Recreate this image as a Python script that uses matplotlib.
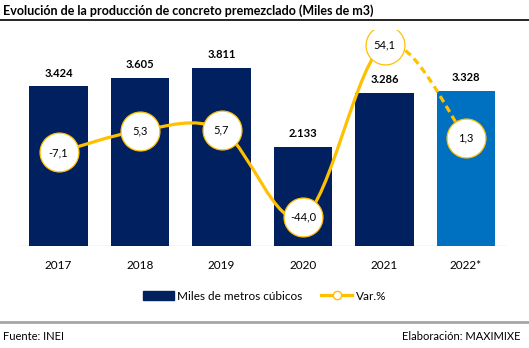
import matplotlib
matplotlib.use('Agg')
import matplotlib.pyplot as plt
from matplotlib.path import Path
from matplotlib.patches import PathPatch, Rectangle
from matplotlib.lines import Line2D
import numpy as np

# ============================================================
# DATA
# ============================================================
anios = ["2017", "2018", "2019", "2020", "2021", "2022*"]
produccion = [3424, 3605, 3811, 2133, 3286, 3328]   # miles de m3
variacion = [-7.1, 5.3, 5.7, -44.0, 54.1, 1.3]      # var. %

AZUL = "#002060"
AZUL_PROY = "#0070C0"
AMARILLO = "#FFC000"

plt.rcParams['font.family'] = ['Lato', 'DejaVu Sans']

W, H = 529, 348
fig = plt.figure(figsize=(W / 100, H / 100), dpi=100)


def px(x0, y0, x1, y1):
    """Rect in pixel coords (from top-left) -> figure fraction."""
    return [x0 / W, 1 - y1 / H, (x1 - x0) / W, (y1 - y0) / H]


ax = fig.add_axes(px(17.75, 30, 506.75, 246))
x = np.arange(len(anios))
colores = [AZUL] * 5 + [AZUL_PROY]
ax.bar(x, produccion, width=0.72, color=colores, zorder=1)
ax.set_xlim(-0.5, 5.5)
ax.set_ylim(0, 216 / 46.6 * 1000)
for xi, v in zip(x, produccion):
    ax.text(xi, v + 170, f"{v:,}".replace(",", "."), ha='center', va='bottom',
            fontsize=8, fontweight='bold', color='black')
ax.set_xticks(x)
ax.set_xticklabels(anios, fontsize=8.5)
ax.tick_params(axis='x', length=0, pad=10)
ax.set_yticks([])
for s in ax.spines.values():
    s.set_visible(False)
ax.axhline(0, color='#D9D9D9', lw=1.0, zorder=0)

# eje secundario para la variacion
ax2 = ax.twinx()
ax2.set_ylim(-(246 - 140) / 1.758, (140 - 30) / 1.758)
ax2.set_yticks([])
for s in ax2.spines.values():
    s.set_visible(False)

# curva suavizada (bezier tipo Catmull-Rom)
pts = np.column_stack([x, variacion]).astype(float)


def segmento(i):
    p0 = pts[max(i - 1, 0)]
    p1 = pts[i]
    p2 = pts[i + 1]
    p3 = pts[min(i + 2, len(pts) - 1)]
    c1 = p1 + (p2 - p0) / 6
    c2 = p2 - (p3 - p1) / 6
    return [p1, c1, c2, p2]


def trazo(idx, estilo):
    verts, codes = [], []
    for k, i in enumerate(idx):
        seg = segmento(i)
        if k == 0:
            verts.append(seg[0])
            codes.append(Path.MOVETO)
        verts += seg[1:]
        codes += [Path.CURVE4] * 3
    patch = PathPatch(Path(verts, codes), fill=False, ec=AMARILLO, lw=2.3,
                      ls=estilo, zorder=2, capstyle='butt')
    ax2.add_patch(patch)


trazo(range(0, 4), '-')
trazo([4], (0, (2.2, 1.4)))

ax2.plot(x, variacion, ls='none', marker='o', ms=28, mfc='white',
         mec=AMARILLO, mew=0.9, zorder=3)
for xi, v in zip(x, variacion):
    ax2.text(xi, v, f"{v:.1f}".replace(".", ","), ha='center', va='center',
             fontsize=8, zorder=4)

# leyenda
h_bar = Rectangle((0, 0), 1, 1, color=AZUL)
h_lin = Line2D([], [], color=AMARILLO, lw=2.3, marker='o', ms=6,
               mfc='white', mec=AMARILLO)
fig.legend([h_bar, h_lin], ["Miles de metros cúbicos", "Var.%"],
           loc='center', bbox_to_anchor=(0.5, 1 - 296 / H), ncol=2,
           frameon=False, fontsize=8.5, handlelength=2.6, handletextpad=0.3,
           columnspacing=1.6)

# titulo, lineas y notas
fig.text(3 / W, 1 - 11 / H, "Evolución de la producción de concreto premezclado (Miles de m3)",
         fontsize=9, fontweight='bold', va='center', ha='left')
fig.add_artist(Line2D([0, 1], [1 - 20 / H] * 2, color='black', lw=1.2))
fig.add_artist(Line2D([0, 1], [1 - 322 / H] * 2, color='#A6A6A6', lw=2))
fig.text(3 / W, 1 - 337 / H, "Fuente: INEI", fontsize=8, va='center', ha='left')
fig.text(521 / W, 1 - 337 / H, "Elaboración: MAXIMIXE", fontsize=8,
         va='center', ha='right')

fig.savefig('out.png', dpi=100)
